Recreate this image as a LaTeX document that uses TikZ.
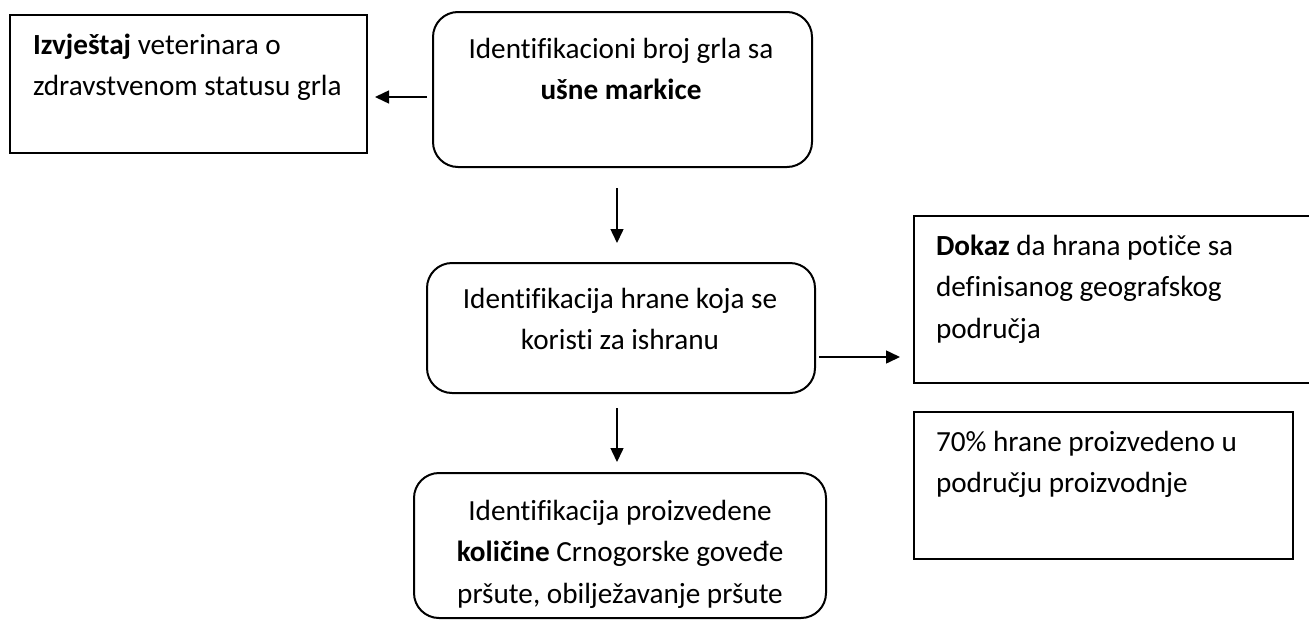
\documentclass[tikz,border=0pt]{standalone}
\usepackage{fontspec}
\setmainfont{Carlito}[Ligatures=NoCommon]
\usetikzlibrary{arrows.meta,calc}
\newcommand\mystrut{\rule{0pt}{12pt}}
\begin{document}
\begin{tikzpicture}[x=0.5pt,y=-0.5pt,
  boxsq/.style={draw, line width=1pt, inner sep=0pt, outer sep=0pt},
  boxrd/.style={boxsq, rounded corners=12.5pt},
  txt/.style={inner sep=0pt, outer sep=0pt, font=\fontsize{14.6pt}{20.75pt}\selectfont},
  arr/.style={line width=0.75pt, -{Triangle[length=7pt,width=6.5pt]}}]
\useasboundingbox (0,0) rectangle (1309,621);
\fill[white] (0,0) rectangle (1309,621);

% boxes
\node[boxsq, minimum width=178.5pt, minimum height=69pt] (b1) at (188.5,84) {};
\node[boxrd, minimum width=189.5pt, minimum height=77.5pt] (b2) at (622.5,89.5) {};
\node[boxrd, minimum width=194pt, minimum height=65pt] (b3) at (621,328) {};
\node[boxsq, minimum width=198.5pt, minimum height=83.5pt] (b4) at (1112.5,299.5) {};
\node[boxsq, minimum width=189.5pt, minimum height=73.5pt] (b5) at (1103.5,485.5) {};
\node[boxrd, minimum width=206pt, minimum height=72.5pt] (b6) at (620,545.5) {};

% texts
\node[txt, anchor=north west, align=left] (t1) at (33,30)
  {\mystrut\textbf{Izvještaj} veterinara o\\zdravstvenom statusu grla};
\node[txt, anchor=north, align=center] (t2) at (621,34)
  {\mystrut Identifikacioni broj grla sa\\\textbf{ušne markice}};
\node[txt, anchor=north, align=center] (t3) at (620,284)
  {\mystrut Identifikacija hrane koja se\\koristi za ishranu};
\node[txt, anchor=north west, align=left] (t4) at (936,231)
  {\mystrut\textbf{Dokaz} da hrana potiče sa\\definisanog geografskog\\područja};
\node[txt, anchor=north west, align=left] (t5) at (936,427)
  {\mystrut 70\% hrane proizvedeno u\\području proizvodnje};
\node[txt, anchor=north, align=center] (t6) at (620,496)
  {\mystrut Identifikacija proizvedene\\\textbf{količine} Crnogorske goveđe\\pršute, obilježavanje pršute};

% connectors
\draw[arr] ($(b2.west)+(-6,7.5)$) -- ($(b1.east)+(8,13)$);
\draw[arr] ($(b2.south)+(-5.5,21)$) -- ($(b3.north)+(-4,-20)$);
\draw[arr] ($(b3.east)+(4,29)$) -- ($(b4.west)+(-14,57.5)$);
\draw[arr] ($(b3.south)+(-4,15)$) -- ($(b6.north)+(-3,-11)$);
\end{tikzpicture}
\end{document}
